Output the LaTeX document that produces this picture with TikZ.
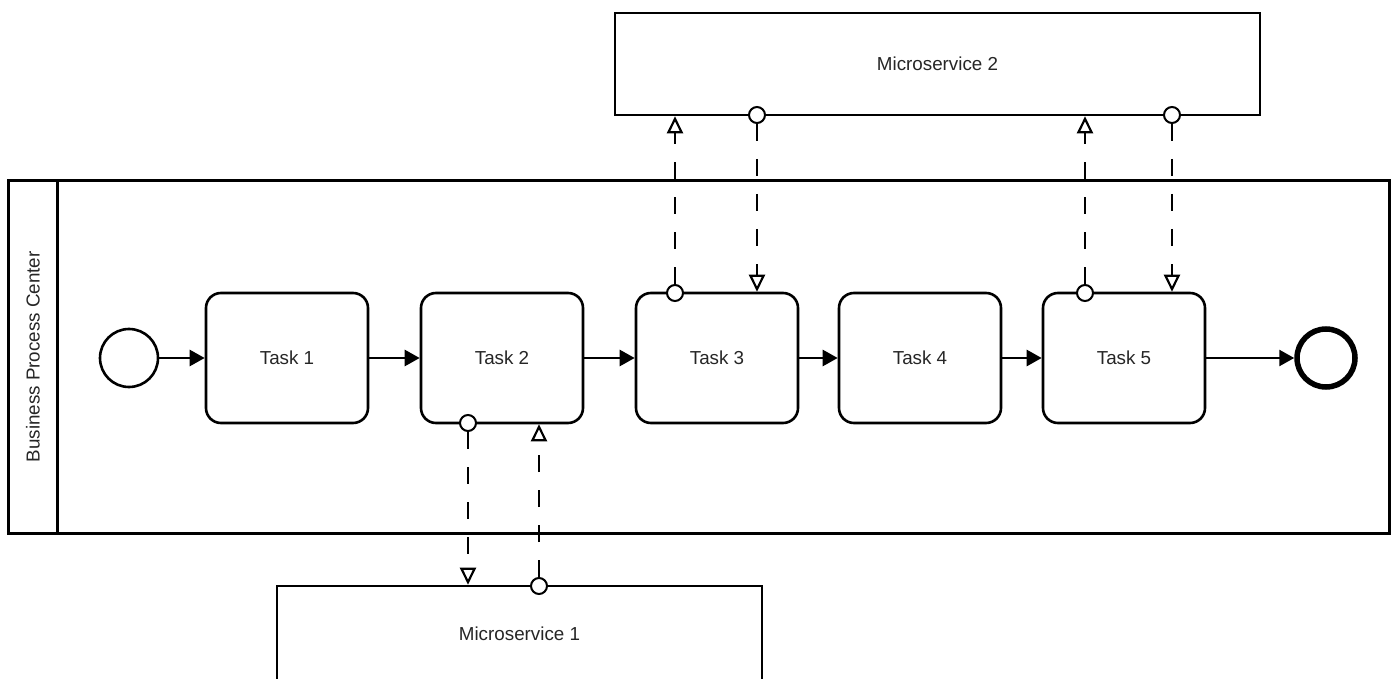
\documentclass[tikz,border=0pt]{standalone}
\usepackage{fontspec}
\setmainfont{Liberation Sans}
\usetikzlibrary{arrows.meta}
\begin{document}
\begin{tikzpicture}[x=1pt,y=-1pt,
 box/.style={draw,line width=2.6pt,fill=white,inner sep=0pt},
 task/.style={box,rounded corners=15pt,minimum width=162pt,minimum height=130pt},
 lbl/.style={font=\fontsize{18.8}{22}\selectfont, text=black!85},
 seq/.style={line width=2.6pt,-{Triangle[length=15pt,width=16pt]}},
 msg/.style={line width=2.4pt,dash pattern=on 17pt off 18pt,-{Triangle[open,length=17pt,width=16pt,line width=2.2pt]}},
 port/.style={circle,draw,line width=2pt,fill=white,minimum size=16pt,inner sep=0pt},
]
\useasboundingbox (0,0) rectangle (1395,679);
\clip (0,0) rectangle (1395,679);
\fill[white] (0,0) rectangle (1395,679);

% pool
\node[box,minimum width=1381pt,minimum height=353pt,anchor=north west] (pool) at (7,179) {};
\node[box,minimum width=49pt,minimum height=353pt,anchor=north west] (band) at (7,179) {};
\node[lbl,rotate=90] (poollbl) at (band.center) {Business Process Center};

% microservices
\node[box,lbl,minimum width=645pt,minimum height=102pt] (ms2) at (937.5,64) {Microservice 2};
\node[box,lbl,minimum width=485pt,minimum height=96pt] (ms1) at (519.5,634) {Microservice 1};

% events and tasks
\node[circle,draw,line width=2.6pt,fill=white,minimum size=58pt,inner sep=0pt] (start) at (129,358) {};
\node[task,lbl] (t1) at (287,358) {Task 1};
\node[task,lbl] (t2) at (502,358) {Task 2};
\node[task,lbl] (t3) at (717,358) {Task 3};
\node[task,lbl] (t4) at (920,358) {Task 4};
\node[task,lbl] (t5) at (1124,358) {Task 5};
\node[circle,draw,line width=5.5pt,fill=white,minimum size=58pt,inner sep=0pt] (end) at (1326,358) {};

% sequence flows
\draw[seq] (start) -- (t1);
\draw[seq] (t1) -- (t2);
\draw[seq] (t2) -- (t3);
\draw[seq] (t3) -- (t4);
\draw[seq] (t4) -- (t5);
\draw[seq] (t5) -- (end);

% ports
\node[port] (p3) at (675,293) {};
\node[port] (p5) at (1085,293) {};
\node[port] (m2a) at (757,115) {};
\node[port] (m2b) at (1172,115) {};
\node[port] (p2) at (468,423) {};
\node[port] (m1a) at (539,586) {};

% message flows
\draw[msg] (p3.north) -- (p3 |- ms2.south);
\draw[msg] (m2a.south) -- (m2a |- t3.north);
\draw[msg] (p5.north) -- (p5 |- ms2.south);
\draw[msg] (m2b.south) -- (m2b |- t5.north);
\draw[msg] (p2.south) -- (p2 |- ms1.north);
\draw[msg] (m1a.north) -- (m1a |- t2.south);
\end{tikzpicture}
\end{document}
